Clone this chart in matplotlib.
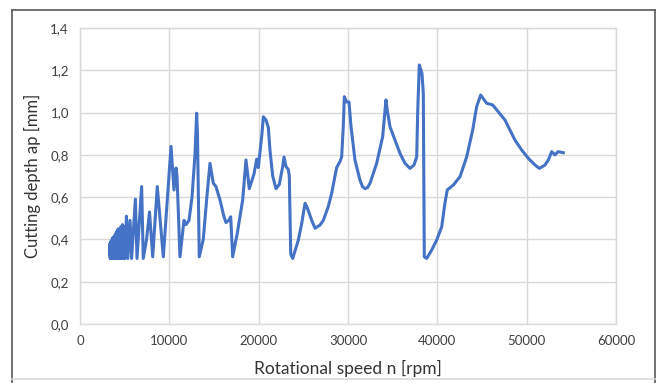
import matplotlib
matplotlib.use("Agg")
import matplotlib.pyplot as plt
from matplotlib.lines import Line2D
from matplotlib.ticker import FuncFormatter

plt.rcParams['font.family'] = ['Lato', 'DejaVu Sans']

# Rotational speed [rpm]
speed = [
    3300, 3340, 3380, 3420, 3460, 3500, 3540, 3590, 3640, 3690, 3740, 3790, 3840,
    3900, 3960, 4020, 4080, 4150, 4210, 4280, 4350, 4420, 4500, 4580, 4660, 4750,
    4840, 4940, 5040, 5200, 5350, 5600, 5780, 6200, 6380, 6900,
    7080, 7450, 7780, 8140, 8650, 9325, 10190, 10520, 10750, 10860, 11190,
    11640, 11870, 12200, 12540, 12870, 13060, 13150, 13350,
    13800, 14180, 14550, 14920, 15220, 15670, 16120, 16340, 16650, 16870, 17090,
    17610, 18210, 18580, 18950, 19480, 19780, 19960, 20370, 20520, 20820, 21080,
    21270, 21570, 21940, 22310, 22690, 22840, 23060, 23320, 23430, 23590, 23810,
    24440, 24820, 25190, 25440, 25940, 26310, 26870, 27230, 27790, 28170, 28540, 28730,
    29100, 29290, 29470, 29590, 29850, 30110, 30340, 30780, 31340, 31620, 31900, 32180,
    32460, 33210, 33880, 34140, 34250, 34400, 34700, 35260, 35820, 36380, 36940, 37390,
    37690, 37800, 37980, 38280, 38430, 38540, 38800, 39370, 39930, 40490, 40850,
    41110, 41790, 42540, 43280, 43960, 44400, 44850, 45520, 46200, 46820, 47570,
    48130, 48690, 49440, 50180, 50930, 51420, 52050, 52430, 52800, 53170, 53510,
    54100,
]
# Cutting depth ap [mm]
depth = [
    0.33, 0.38, 0.31, 0.39, 0.31, 0.38, 0.31, 0.40, 0.31, 0.41, 0.31, 0.40, 0.31,
    0.42, 0.31, 0.43, 0.31, 0.44, 0.31, 0.45, 0.31, 0.44, 0.31, 0.46, 0.31, 0.47,
    0.31, 0.46, 0.31, 0.51, 0.31, 0.49, 0.31, 0.59, 0.31, 0.65,
    0.31, 0.40, 0.53, 0.318, 0.65, 0.318, 0.84, 0.634, 0.738, 0.70, 0.318,
    0.49, 0.47, 0.49, 0.60, 0.80, 0.997, 0.90, 0.318,
    0.40, 0.59, 0.76, 0.666, 0.65, 0.587, 0.507, 0.48, 0.49, 0.507, 0.318,
    0.43, 0.587, 0.776, 0.64, 0.71, 0.78, 0.74, 0.90, 0.98, 0.965, 0.93,
    0.82, 0.70, 0.64, 0.66, 0.745, 0.79, 0.745, 0.73, 0.70, 0.33, 0.31,
    0.397, 0.476, 0.571, 0.55, 0.49, 0.453, 0.468, 0.49, 0.555, 0.618, 0.697, 0.74,
    0.768, 0.79, 0.933, 1.075, 1.05, 1.05, 0.933, 0.776, 0.68, 0.65, 0.64, 0.645,
    0.665, 0.76, 0.886, 1.012, 1.06, 1.01, 0.933, 0.87, 0.807, 0.76, 0.736, 0.752,
    0.79, 1.0, 1.225, 1.186, 1.09, 0.318, 0.31, 0.35, 0.397, 0.46, 0.571,
    0.634, 0.657, 0.697, 0.79, 0.918, 1.028, 1.083, 1.044, 1.036, 1.004, 0.965,
    0.918, 0.87, 0.823, 0.784, 0.752, 0.736, 0.752, 0.776, 0.815, 0.80, 0.815,
    0.81,
]

x_ticks = [0, 10000, 20000, 30000, 40000, 50000, 60000]
y_ticks = [0.0, 0.2, 0.4, 0.6, 0.8, 1.0, 1.2, 1.4]

W, H = 657, 383
fig = plt.figure(figsize=(W / 100, H / 100), dpi=100)
ax = fig.add_axes([80 / W, 1 - 324 / H, (616 - 80) / W, (324 - 28) / H])

ax.plot(speed, depth, color='#4472C4', linewidth=2.2, solid_joinstyle='round')

ax.set_xlim(0, 60000)
ax.set_ylim(0, 1.4)
ax.set_xticks(x_ticks)
ax.set_yticks(y_ticks)
ax.yaxis.set_major_formatter(FuncFormatter(lambda v, p: f"{v:.1f}".replace('.', ',')))
ax.xaxis.set_major_formatter(FuncFormatter(lambda v, p: f"{int(v)}"))
ax.grid(True, color='#d9d9d9', linewidth=1)
ax.set_axisbelow(True)
for s in ax.spines.values():
    s.set_color('#d9d9d9')
    s.set_linewidth(1)
ax.tick_params(length=0, labelsize=9.5, colors='#404040', pad=8)
ax.set_xlabel('Rotational speed n [rpm]', fontsize=12.5, color='#333333', labelpad=9)
ax.set_ylabel('Cutting depth ap [mm]', fontsize=12, color='#333333', labelpad=7)

# outer chart border
def fx(px):
    return px / W
def fy(py):
    return 1 - py / H
fig.add_artist(Line2D([fx(12), fx(12)], [fy(10), fy(383)], color='#595959', lw=1.2))
fig.add_artist(Line2D([fx(12), fx(655)], [fy(10), fy(10)], color='#595959', lw=1.2))
fig.add_artist(Line2D([fx(655), fx(655)], [fy(10), fy(383)], color='#595959', lw=1.2))
fig.add_artist(Line2D([fx(12), fx(655)], [fy(379), fy(379)], color='#d9d9d9', lw=1.2))

fig.savefig('out.png', dpi=100)
